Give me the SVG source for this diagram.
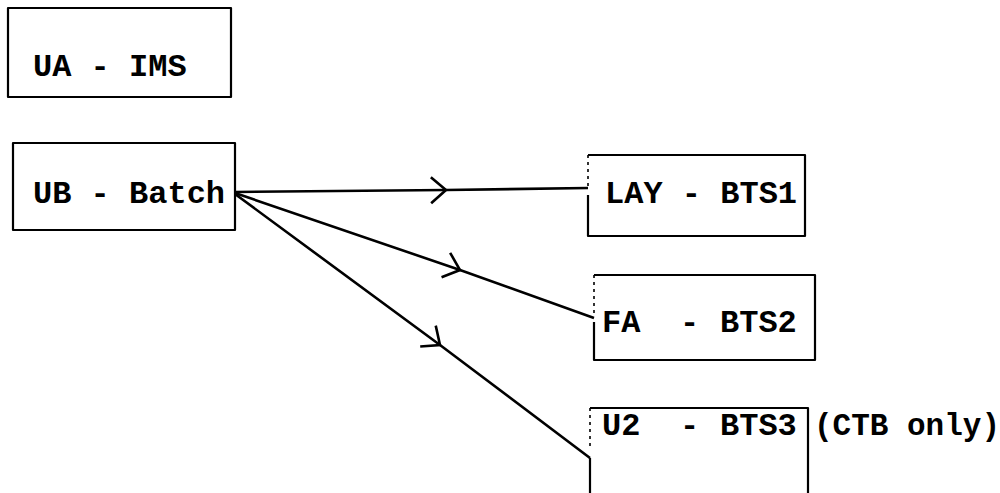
<svg xmlns="http://www.w3.org/2000/svg" width="1000" height="493" viewBox="0 0 1000 493">
<defs>
<style>
.box{fill:none;stroke:#000;stroke-width:2.2;stroke-linejoin:round}
.dot{fill:none;stroke:#000;stroke-width:1.6;stroke-dasharray:3 4}
.lbl{font-family:"Liberation Mono","Courier New",monospace;font-size:32px;font-weight:bold;fill:#000}
.con{fill:none;stroke:#000;stroke-width:2.6;marker-mid:url(#chev)}
</style>
<marker id="chev" viewBox="-18 -16 22 32" markerWidth="22" markerHeight="32" refX="0" refY="0" orient="auto" markerUnits="userSpaceOnUse">
<path d="M-15,-13 L0,0 L-15,13" fill="none" stroke="#000" stroke-width="2.6" stroke-linejoin="miter"/>
</marker>
</defs>
<rect width="1000" height="493" fill="#fff"/>

<g id="node-ua">
<rect class="box" x="8" y="8" width="223" height="89"/>
<text class="lbl" x="33" y="76">UA - IMS</text>
</g>

<g id="node-ub">
<rect class="box" x="13" y="143" width="222" height="87"/>
<text class="lbl" x="33" y="203">UB - Batch</text>
</g>

<g id="node-lay">
<path class="box" d="M588,195 L588,236 L805,236 L805,155 L588,155"/>
<path class="dot" d="M588,155 L588,186"/>
<text class="lbl" x="605" y="203">LAY - BTS1</text>
</g>

<g id="node-fa">
<path class="box" d="M594,322 L594,360 L815,360 L815,275 L594,275"/>
<path class="dot" d="M594,275 L594,314"/>
<text class="lbl" y="332"><tspan x="602">FA </tspan><tspan x="680">- </tspan><tspan x="720">BTS2</tspan></text>
</g>

<g id="node-u2">
<path class="box" d="M590,458 L590,493 M808,493 L808,408 L590,408"/>
<path class="dot" d="M590,408 L590,450"/>
<text class="lbl" y="435"><tspan x="602">U2 </tspan><tspan x="680">- </tspan><tspan x="720">BTS3</tspan></text>
<text class="lbl" x="814" y="435" style="font-size:31px">(CTB only)</text>
</g>

<g id="connectors">
<path class="con" d="M235,192 L446,190 L588,188"/>
<path class="con" d="M235,193 L460,270 L594,318"/>
<path class="con" d="M235,194 L440,345 L590,458"/>
</g>
</svg>
